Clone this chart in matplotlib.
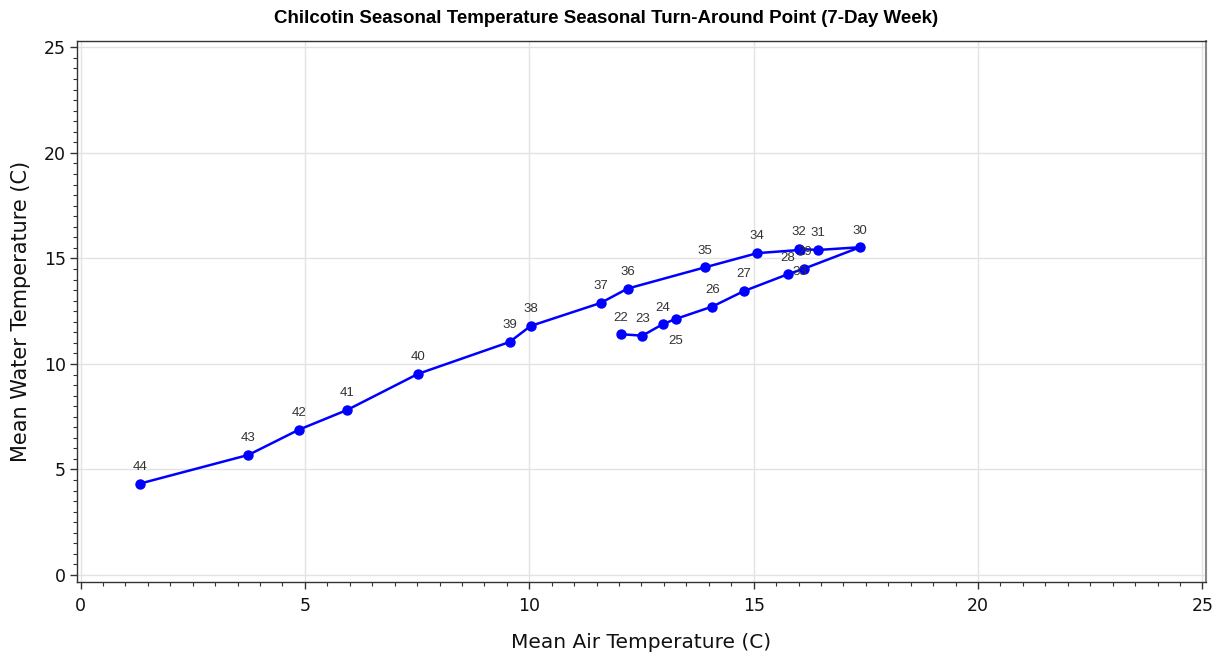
import matplotlib
matplotlib.use("Agg")
import matplotlib.pyplot as plt
from matplotlib.ticker import MultipleLocator

# Weekly means (ISO week number, air temperature, water temperature)
weeks = [22, 23, 24, 25, 26, 27, 28, 29, 30, 31, 32, 33,
         34, 35, 36, 37, 38, 39, 40, 41, 42, 43, 44]
air_temp = [12.04, 12.52, 12.97, 13.26, 14.08, 14.78, 15.76, 16.13, 17.37, 16.43, 16.01, 16.03,
            15.08, 13.92, 12.19, 11.59, 10.03, 9.56, 7.52, 5.94, 4.87, 3.74, 1.32]
water_temp = [11.41, 11.34, 11.88, 12.13, 12.72, 13.45, 14.25, 14.52, 15.53, 15.40, 15.45, 15.40,
              15.25, 14.58, 13.57, 12.89, 11.80, 11.04, 9.53, 7.82, 6.89, 5.69, 4.33]

title = "Chilcotin Seasonal Temperature Seasonal Turn-Around Point (7-Day Week)"
x_label = "Mean Air Temperature (C)"
y_label = "Mean Water Temperature (C)"

# week labels that sit below their marker to stay clear of neighbours
labels_below = {25, 33}

fig = plt.figure(figsize=(12.2, 6.56), dpi=100)
ax = fig.add_axes([0.0631, 0.1128, 0.9254, 0.8247])

ax.plot(air_temp, water_temp, color="#0000FF", lw=1.8, marker="o",
        markersize=6.5, markerfacecolor="#0000FF", markeredgecolor="#0000FF", zorder=3)

for wk, x, y in zip(weeks, air_temp, water_temp):
    dy = -16 if wk in labels_below else 12
    ax.annotate(str(wk), (x, y), xytext=(0, dy), textcoords="offset points",
                ha="center", va="center", fontsize=9.5, color="#333333",
                family="Liberation Sans")

ax.set_xlim(-0.08, 25.08)
ax.set_ylim(-0.33, 25.3)
ax.xaxis.set_major_locator(MultipleLocator(5))
ax.xaxis.set_minor_locator(MultipleLocator(0.5))
ax.yaxis.set_major_locator(MultipleLocator(5))
ax.yaxis.set_minor_locator(MultipleLocator(0.5))

ax.grid(True, which="major", color="#e3e3e3", lw=1.0)
ax.set_axisbelow(True)

ax.tick_params(which="major", direction="out", length=5, width=1, color="#333333",
               labelsize=12.5, labelcolor="#111111")
ax.tick_params(axis="x", which="major", pad=6)
ax.tick_params(axis="y", which="major", pad=3)
ax.tick_params(which="minor", direction="out", length=3, width=0.8, color="#333333")

for side in ("left", "bottom", "top"):
    ax.spines[side].set_color("#333333")
    ax.spines[side].set_linewidth(1.0)
ax.spines["right"].set_color("#888888")
ax.spines["right"].set_linewidth(1.5)

ax.set_xlabel(x_label, fontsize=14.5, color="#111111", labelpad=13)
ax.set_ylabel(y_label, fontsize=15, color="#111111", labelpad=9)
fig.suptitle(title, x=0.497, y=0.985, fontsize=13.5, fontweight="bold",
             family="Liberation Sans", color="#000000")

fig.savefig("out.png", dpi=100, facecolor="white")
